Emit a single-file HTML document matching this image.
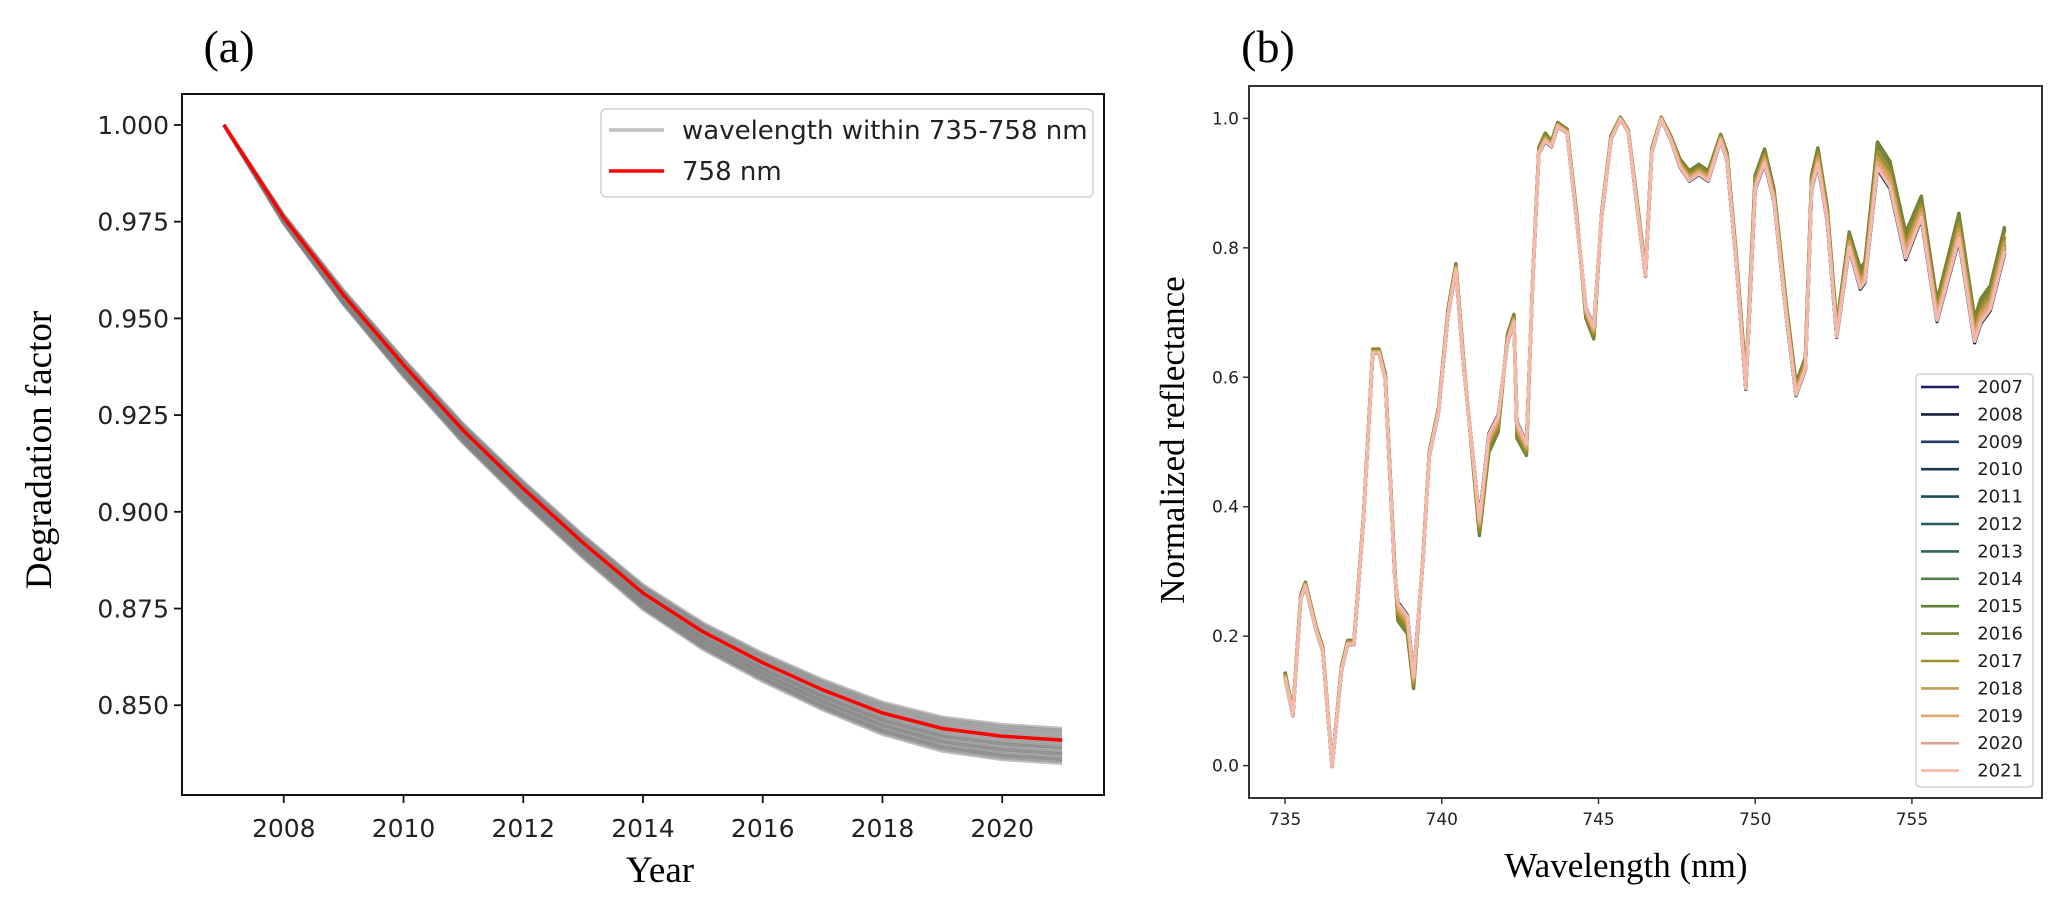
<!DOCTYPE html>
<html><head><meta charset="utf-8"><style>
html,body{margin:0;padding:0;background:#fff;}
svg{display:block;}
</style></head><body>
<svg id="fig" width="2067" height="905" viewBox="0 0 2067 905" xmlns="http://www.w3.org/2000/svg">
<rect width="2067" height="905" fill="#fff"/>
<text x="229" y="62" font-family="Liberation Serif, serif" font-size="46" text-anchor="middle" fill="#000">(a)</text>
<text x="1268" y="62" font-family="Liberation Serif, serif" font-size="46" text-anchor="middle" fill="#000">(b)</text>
<g id="pa"></g>
<g id="pb"></g>
</svg>
<script>
// ---------- Panel (a) data ----------
const years = [2007,2008,2009,2010,2011,2012,2013,2014,2015,2016,2017,2018,2019,2020,2021];
const red758 = [1.000,0.976,0.956,0.938,0.921,0.906,0.892,0.879,0.869,0.861,0.854,0.848,0.844,0.842,0.841];
const grayEnd = [0.835,0.8355,0.836,0.8365,0.837,0.8375,0.838,0.8385,0.839,0.8395,0.840,0.8405,0.841,0.8415,0.842,0.8425,0.843,0.8435,0.844,0.8375,0.839,0.836];
const grayProgress = [0,0.25,0.4,0.5,0.55,0.6,0.65,0.7,0.75,0.8,0.86,0.92,0.97,1,1];
const aXTicks = [2008,2010,2012,2014,2016,2018,2020];
const aYTicks = ["0.850","0.875","0.900","0.925","0.950","0.975","1.000"];

// ---------- Panel (b) data ----------
const wl = [735.0,735.25,735.5,735.65,736.0,736.2,736.5,736.8,737.0,737.2,737.5,737.8,738.0,738.2,738.5,738.6,738.9,739.1,739.4,739.6,739.9,740.2,740.45,740.7,741.2,741.5,741.8,742.1,742.3,742.4,742.7,742.9,743.1,743.3,743.5,743.7,744.0,744.3,744.6,744.85,745.1,745.4,745.7,745.95,746.2,746.5,746.7,747.0,747.3,747.6,747.9,748.2,748.5,748.9,749.1,749.4,749.7,750.0,750.3,750.6,751.0,751.3,751.6,751.8,752.0,752.3,752.6,753.0,753.35,753.5,753.9,754.3,754.8,755.3,755.8,756.5,757.0,757.2,757.5,757.96];
const reflBase = [0.14,0.08,0.26,0.28,0.21,0.18,0.0,0.15,0.19,0.19,0.38,0.64,0.64,0.60,0.30,0.24,0.22,0.13,0.32,0.48,0.55,0.70,0.77,0.62,0.37,0.50,0.53,0.66,0.69,0.52,0.49,0.75,0.95,0.97,0.96,0.99,0.98,0.85,0.70,0.67,0.85,0.97,1.0,0.98,0.88,0.76,0.95,1.0,0.97,0.93,0.91,0.92,0.91,0.97,0.94,0.78,0.59,0.90,0.94,0.88,0.70,0.58,0.62,0.90,0.94,0.85,0.67,0.81,0.75,0.76,0.94,0.91,0.80,0.86,0.70,0.83,0.67,0.70,0.72,0.81];
const reflSpread = [0.3,0.2,0.2,0.2,0.2,0.2,0.1,0.2,0.2,0.2,0.2,0.2,0.2,0.3,0.4,-0.9,-0.9,-0.6,0.2,0.2,0.2,0.3,0.3,0.3,-0.8,-0.9,-0.8,0.4,0.4,-0.8,-0.6,0.2,0.3,0.4,0.3,0.2,0.2,0.3,-0.5,-0.6,0.2,0.2,0.1,0.1,0.3,0.3,0.2,0.1,0.2,0.4,0.5,0.5,0.5,0.3,0.4,0.4,0.6,0.7,0.7,0.6,0.6,0.6,0.6,0.7,0.8,0.7,0.6,0.8,1.0,1.0,1.3,1.3,1.3,1.1,1.0,1.3,1.2,1.2,1.2,1.3];
const yearShift = [-0.012,-0.014,-0.010,-0.012,-0.008,-0.004,0.006,0.014,0.018,0.015,0.006,0.0,-0.006,-0.010,-0.012];
const yearColors = ["#1b1b60","#15213f","#1d3d5e","#17394a","#1b4f57","#255d5c","#2f6752","#557d52","#5e8235","#7d8431","#a18b2b","#c39c55","#e2a86c","#d9a28c","#f4b9aa"];
const bXTicks = [735,740,745,750,755];
const bYTicks = ["0.0","0.2","0.4","0.6","0.8","1.0"];

const NS = "http://www.w3.org/2000/svg";
function mk(tag, attrs, parent){ const e=document.createElementNS(NS,tag); for(const k in attrs) e.setAttribute(k,attrs[k]); parent.appendChild(e); return e; }

// ---------- Panel (a) ----------
(function(){
  const g = document.getElementById('pa');
  const L=182,R=1104,T=94,B=795, x0=2006.3,x1=2021.7,y0=0.8268,y1=1.008;
  const X=v=>L+(v-x0)/(x1-x0)*(R-L);
  const Y=v=>B-(v-y0)/(y1-y0)*(B-T);
  grayEnd.forEach((e,k)=>{
    const pts = years.map((yr,j)=>X(yr).toFixed(1)+','+Y(red758[j]+(e-0.841)*grayProgress[j]).toFixed(1)).join(' ');
    const p = mk('polyline',{points:pts,fill:'none',stroke:'rgb(128,128,128)','stroke-opacity':'0.5','stroke-width':'3.5'},g);
    
    
  });
  const rp = mk('polyline',{points:years.map((yr,j)=>X(yr).toFixed(1)+','+Y(red758[j]).toFixed(1)).join(' '),fill:'none',stroke:'#ff0000','stroke-width':'3.5'},g);
  
  
  const fr = mk('rect',{x:L,y:T,width:R-L,height:B-T,fill:'none',stroke:'#111','stroke-width':'2'},g);
  
  
  aXTicks.forEach(t=>{
    const x=X(t);
    mk('line',{x1:x,y1:B,x2:x,y2:B+8,stroke:'#111','stroke-width':'1.8'},g);
    const tx = mk('text',{x:x,y:B+42,'font-family':'DejaVu Sans, sans-serif','font-size':'25','text-anchor':'middle',fill:'#222'},g);
    tx.textContent=t;
    
    
  });
  aYTicks.forEach(t=>{
    const y=Y(parseFloat(t));
    mk('line',{x1:L-8,y1:y,x2:L,y2:y,stroke:'#111','stroke-width':'1.8'},g);
    const tx = mk('text',{x:L-13,y:y+9,'font-family':'DejaVu Sans, sans-serif','font-size':'25','text-anchor':'end',fill:'#222'},g);
    tx.textContent=t;
    
    
  });
  const xl = mk('text',{x:660,y:882,'font-family':'Liberation Serif, serif','font-size':'37','text-anchor':'middle',fill:'#000'},g);
  xl.textContent='Year';
  
  
  const yl = mk('text',{x:0,y:0,transform:'translate(51,450) rotate(-90)','font-family':'Liberation Serif, serif','font-size':'37','text-anchor':'middle',fill:'#000','xml:space':'preserve'},g);
  yl.textContent='Degradation  factor';
  
  
  const lg = mk('g',{},g);
  
  
  mk('rect',{x:601,y:109,width:492,height:88,rx:5,fill:'#fff',stroke:'#d0d0d0','stroke-width':'1.5'},lg);
  mk('line',{x1:609,y1:130,x2:664,y2:130,stroke:'#c0c0c0','stroke-width':'3.5'},lg);
  mk('line',{x1:609,y1:171,x2:664,y2:171,stroke:'#ff0000','stroke-width':'3.5'},lg);
  const t1 = mk('text',{x:682,y:139,'font-family':'DejaVu Sans, sans-serif','font-size':'26',fill:'#222'},lg);
  t1.textContent='wavelength within 735-758 nm';
  
  
  const t2 = mk('text',{x:682,y:180,'font-family':'DejaVu Sans, sans-serif','font-size':'26',fill:'#222'},lg);
  t2.textContent='758 nm';
  
  
})();

// ---------- Panel (b) ----------
(function(){
  const g = document.getElementById('pb');
  const L=1249,R=2042,T=86,B=798, x0=733.85,x1=759.15,y0=-0.05,y1=1.05;
  const X=v=>L+(v-x0)/(x1-x0)*(R-L);
  const Y=v=>B-(v-y0)/(y1-y0)*(B-T);
  years.forEach((yr,j)=>{
    const pts = wl.map((w,i)=>X(w).toFixed(1)+','+Y(reflBase[i]+reflSpread[i]*yearShift[j]).toFixed(1)).join(' ');
    const p = mk('polyline',{points:pts,fill:'none',stroke:yearColors[j],'stroke-width':'3.4','stroke-linejoin':'round'},g);
    
    
  });
  const fr = mk('rect',{x:L,y:T,width:R-L,height:B-T,fill:'none',stroke:'#333','stroke-width':'2'},g);
  
  
  bXTicks.forEach(t=>{
    const x=X(t);
    mk('line',{x1:x,y1:B,x2:x,y2:B+6,stroke:'#333','stroke-width':'1.5'},g);
    const tx = mk('text',{x:x,y:B+27,'font-family':'DejaVu Sans, sans-serif','font-size':'17','text-anchor':'middle',fill:'#222'},g);
    tx.textContent=t;
    
    
  });
  bYTicks.forEach(t=>{
    const y=Y(parseFloat(t));
    mk('line',{x1:L-6,y1:y,x2:L,y2:y,stroke:'#333','stroke-width':'1.5'},g);
    const tx = mk('text',{x:L-10,y:y+6,'font-family':'DejaVu Sans, sans-serif','font-size':'17','text-anchor':'end',fill:'#222'},g);
    tx.textContent=t;
    
    
  });
  const xl = mk('text',{x:1626,y:877,'font-family':'Liberation Serif, serif','font-size':'35','text-anchor':'middle',fill:'#000','xml:space':'preserve'},g);
  xl.textContent='Wavelength  (nm)';
  
  
  const yl = mk('text',{x:0,y:0,transform:'translate(1184,440) rotate(-90)','font-family':'Liberation Serif, serif','font-size':'35','text-anchor':'middle',fill:'#000','xml:space':'preserve'},g);
  yl.textContent='Normalized  reflectance';
  
  
  const lg = mk('g',{},g);
  
  
  mk('rect',{x:1916,y:374,width:117,height:413,rx:4,fill:'#fff',stroke:'#d0d0d0','stroke-width':'1.5'},lg);
  years.forEach((yr,j)=>{
    const y = 387 + j*27.4;
    mk('line',{x1:1921,y1:y,x2:1959,y2:y,stroke:yearColors[j],'stroke-width':'2.6'},lg);
    const tx = mk('text',{x:2023,y:y+6,'font-family':'DejaVu Sans, sans-serif','font-size':'18','text-anchor':'end',fill:'#222'},lg);
    tx.textContent=yr;
    
    
  });
})();
</script>
</body></html>
